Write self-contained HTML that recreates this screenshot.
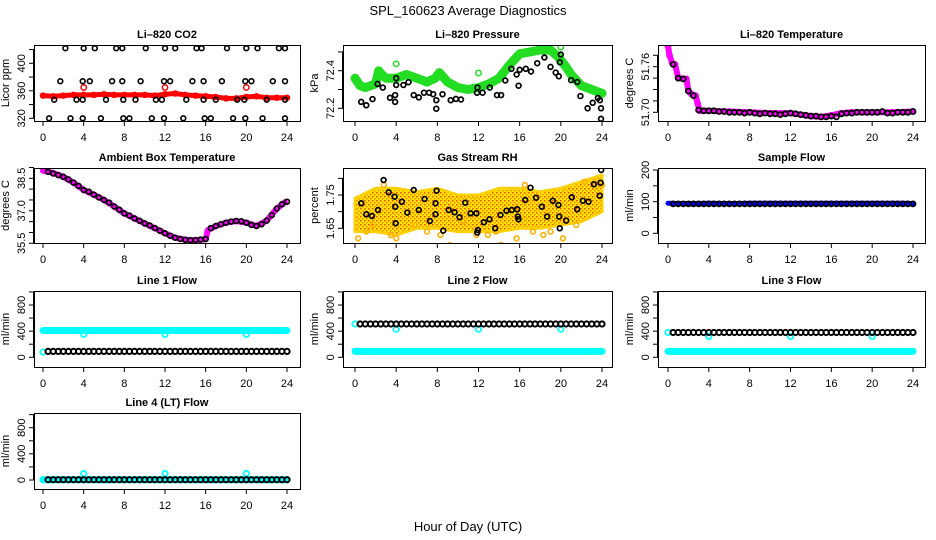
<!DOCTYPE html>
<html><head><meta charset="utf-8"><style>
html,body{margin:0;padding:0;background:#fff;}
svg{display:block;font-family:"Liberation Sans",Arial,sans-serif;}
</style></head><body>
<svg id="chart" width="936" height="540" viewBox="0 0 936 540" xmlns="http://www.w3.org/2000/svg">
<defs>
<pattern id="rhpat" width="4" height="4" patternUnits="userSpaceOnUse">
<rect width="4" height="4" fill="#ffe800"/><rect x="0" y="0" width="1.5" height="1.5" fill="#ff4000"/><rect x="2" y="2" width="1.5" height="1.5" fill="#ff8000"/>
</pattern>
</defs>
<text x="468" y="15" text-anchor="middle" font-size="13">SPL_160623  Average Diagnostics</text>
<text x="468" y="531" text-anchor="middle" font-size="13">Hour of Day (UTC)</text>
</svg>
<script>
// ---- shared x data ----
const hours = [0,1,2,3,4,5,6,7,8,9,10,11,12,13,14,15,16,17,18,19,20,21,22,23,24];
const halfHours = [0.5,1,1.5,2,2.5,3,3.5,4,4.5,5,5.5,6,6.5,7,7.5,8,8.5,9,9.5,10,10.5,11,11.5,12,12.5,13,13.5,14,14.5,15,15.5,16,16.5,17,17.5,18,18.5,19,19.5,20,20.5,21,21.5,22,22.5,23,23.5,24];
const xTickLabels = [0,4,8,12,16,20,24];
const calHours = [4,12,20];

// ---- CO2 ----
const co2Red = [353,352,353,354,354,354,355,354,354,354,354,353,355,356,354,353,352,351,349,349,351,352,350,350,350];
const co2RedCal = [365,365,365];
const co2BlackX = [2.2,4,5.1,7.2,7.8,10.1,12,13,15.1,15.6,18.1,20,21.1,23.2,23.8, 1.7,3.9,4.6,6.8,7.8,9.6,11.9,12.5,14.7,15.8,17.6,19.9,20.5,22.6,23.8, 1.1,3.3,3.9,6.2,7.9,9.1,11.1,11.7,14.1,15.8,17,19.1,19.8,22,23.8, 0.6,2.7,3.9,5.7,7.9,8.5,10.7,11.9,13.8,15.9,16.5,18.7,19.9,21.6,23.8];
const co2BlackY = [422,422,422,422,422,422,422,422,422,422,422,422,422,422,422, 374,374,374,374,374,374,374,374,374,374,374,374,374,374,374, 347,347,347,347,347,347,347,347,347,347,347,347,347,347,347, 320,320,320,320,320,320,320,320,320,320,320,320,320,320,320];

// ---- Pressure ----
const presGreenX = [0,0.5,1,1.5,2,2.3,2.6,3,4,5,6,7,7.8,8.2,9,10,11,12,13,14,15,16,17,18,19,19.8,20.5,21,22,23,24];
const presGreenY = [72.36,72.32,72.31,72.32,72.33,72.40,72.38,72.36,72.36,72.38,72.36,72.34,72.36,72.39,72.34,72.31,72.30,72.31,72.33,72.36,72.43,72.49,72.50,72.51,72.51,72.47,72.42,72.38,72.32,72.30,72.28];
const presGreenCal = [72.436,72.388,72.526];
const presBlackX = [0.6,1.1,1.7,2.2,2.7,3.4,3.9,3.9,4,4,4.7,5.2,5.7,6.2,6.7,7.2,7.6,7.9,7.9,8.5,9.3,9.8,10.3,11.85,11.9,12.4,13.1,13.8,14.2,14.6,15.2,15.7,15.9,16,16.6,17.1,17.7,18.4,19,19.5,19.8,19.9,20,21,21.6,21.9,22.6,23.1,23.6,23.8,23.9,23.9];
const presBlackY = [72.234,72.216,72.249,72.33,72.31,72.256,72.27,72.234,72.36,72.324,72.324,72.339,72.27,72.258,72.283,72.283,72.275,72.243,72.198,72.275,72.243,72.25,72.247,72.283,72.31,72.283,72.31,72.27,72.27,72.348,72.41,72.38,72.32,72.405,72.41,72.396,72.44,72.47,72.42,72.39,72.37,72.445,72.486,72.35,72.34,72.265,72.2,72.229,72.255,72.243,72.2,72.144];

// ---- Li-820 Temperature ----
const tempMagX = [0,0.15,0.4,0.7,1,1.5,1.8,2,2.3,2.7,2.9,3.1,4,6,8,10,12,14,15,16,17,18,20,22,24];
const tempMagY = [51.787,51.775,51.765,51.763,51.745,51.744,51.744,51.728,51.724,51.722,51.712,51.702,51.702,51.701,51.700,51.699,51.699,51.695,51.694,51.696,51.699,51.700,51.700,51.700,51.701];
const tempBlack = [51.763,51.745,51.744,51.728,51.722,51.703,51.702,51.702,51.702,51.701,51.701,51.700,51.700,51.700,51.699,51.700,51.699,51.698,51.699,51.698,51.698,51.697,51.698,51.699,51.698,51.697,51.696,51.695,51.695,51.694,51.694,51.695,51.694,51.698,51.699,51.699,51.700,51.700,51.700,51.700,51.700,51.701,51.699,51.699,51.700,51.700,51.700,51.701];

// ---- Ambient Box Temperature ----
const ambMagX = [0,1,2,3,4,5,6,7,8,9,10,11,12,13,14,15,16,16.2,17,18,19,20,21,22,23,23.8];
const ambMagY = [38.85,38.75,38.57,38.3,37.96,37.75,37.5,37.2,36.88,36.65,36.42,36.2,35.96,35.76,35.66,35.65,35.68,36.1,36.3,36.45,36.53,36.45,36.3,36.55,37.1,37.4];
const ambBlack = [38.8,38.72,38.65,38.57,38.45,38.3,38.15,37.96,37.88,37.75,37.62,37.5,37.38,37.2,37.05,36.88,36.78,36.65,36.54,36.42,36.32,36.2,36.08,35.96,35.85,35.76,35.7,35.66,35.64,35.65,35.67,35.7,36.2,36.3,36.38,36.45,36.5,36.53,36.52,36.45,36.35,36.3,36.38,36.55,36.8,37.1,37.3,37.42];

// ---- Gas Stream RH ----
const rhEnvX = [0,2,4,6,8,10,12,14,16,18,20,22,24];
const rhUpper = [1.74,1.77,1.77,1.76,1.77,1.75,1.75,1.77,1.77,1.76,1.77,1.79,1.81];
const rhLower = [1.64,1.64,1.63,1.65,1.65,1.64,1.64,1.64,1.65,1.65,1.66,1.67,1.70];
const rhOrangeX = [0.3,1.1,1.8,2.8,3.5,4,5.8,7,8.3,9.2,10.5,11.8,12.9,13.7,14.2,15.7,16.5,17.3,18.3,19,20.2,21.5,22.3,23.3,24];
const rhOrangeY = [1.62,1.64,1.66,1.78,1.63,1.62,1.66,1.64,1.63,1.60,1.67,1.63,1.63,1.64,1.60,1.62,1.78,1.64,1.63,1.64,1.62,1.66,1.79,1.79,1.78];
const rhBlackX = [0.61,1.1,1.65,2.23,2.78,3.27,3.85,3.92,3.95,4.56,5.08,5.7,6.2,6.76,7.28,7.83,7.83,7.93,8.58,9.1,9.68,10.16,10.71,11.23,11.8,11.88,11.94,12.52,13.07,13.62,14.14,14.72,15.24,15.76,15.83,15.89,16.54,17.05,17.6,18.15,18.67,19.22,19.77,19.84,19.9,20.52,21.07,21.59,22.14,22.69,23.21,23.79,23.86,23.92];
const rhBlackY = [1.725,1.692,1.687,1.705,1.795,1.758,1.745,1.715,1.665,1.73,1.697,1.765,1.705,1.738,1.672,1.725,1.692,1.763,1.643,1.705,1.698,1.683,1.727,1.695,1.695,1.637,1.645,1.668,1.677,1.65,1.69,1.703,1.705,1.707,1.685,1.677,1.735,1.772,1.742,1.715,1.685,1.733,1.72,1.685,1.65,1.673,1.743,1.707,1.733,1.73,1.782,1.748,1.787,1.825];

// ---- Sample Flow ----
const sampleBlue = [95,94,94,94,95,94,94,94,95,95,95,95,95,95,95,95,95,95,95,95,95,95,95,95,94];
const sampleBlack = [93,93,93,93,93,93,93,93,93,93,93,93,93,93,93,93,93,93,93,93,93,93,93,93,93,93,93,93,93,93,93,93,93,93,93,93,93,93,93,93,93,93,93,93,93,93,93,93];

// ---- Line flows ----
const line1Cyan = [410,410,410,410,410,410,410,410,410,410,410,410,410,410,410,410,410,410,410,410,410,410,410,410,410];
const line1CyanStart = [80];
const line1CyanCal = [350,350,350];
const line1Black = [90,90,90,90,90,90,90,90,90,90,90,90,90,90,90,90,90,90,90,90,90,90,90,90,90,90,90,90,90,90,90,90,90,90,90,90,90,90,90,90,90,90,90,90,90,90,90,90];
const line2Cyan = [90,90,90,90,90,90,90,90,90,90,90,90,90,90,90,90,90,90,90,90,90,90,90,90,90];
const line2CyanStart = [510];
const line2CyanCal = [430,430,430];
const line2Black = [510,510,510,510,510,510,510,510,510,510,510,510,510,510,510,510,510,510,510,510,510,510,510,510,510,510,510,510,510,510,510,510,510,510,510,510,510,510,510,510,510,510,510,510,510,510,510,510];
const line3Cyan = [90,90,90,90,90,90,90,90,90,90,90,90,90,90,90,90,90,90,90,90,90,90,90,90,90];
const line3CyanStart = [380];
const line3CyanCal = [320,320,320];
const line3Black = [380,380,380,380,380,380,380,380,380,380,380,380,380,380,380,380,380,380,380,380,380,380,380,380,380,380,380,380,380,380,380,380,380,380,380,380,380,380,380,380,380,380,380,380,380,380,380,380];
const line4Cyan = [5,5,5,5,5,5,5,5,5,5,5,5,5,5,5,5,5,5,5,5,5,5,5,5,5];
const line4CyanStart = [5];
const line4CyanCal = [100,100,100];
const line4Black = [5,5,5,5,5,5,5,5,5,5,5,5,5,5,5,5,5,5,5,5,5,5,5,5,5,5,5,5,5,5,5,5,5,5,5,5,5,5,5,5,5,5,5,5,5,5,5,5];

// ---- layout (not data) ----
const NS = "http://www.w3.org/2000/svg";
const svg = document.getElementById('chart');
const cols = [{l:34,r:300,x0:43,x24:287},{l:343,r:612,x0:355,x24:602},{l:658,r:925,x0:668,x24:913}];
const rows = [{t:45,b:121},{t:168,b:243},{t:291,b:367},{t:413,b:489}];

function el(tag, attrs, parent){
  const e = document.createElementNS(NS, tag);
  for (const k in attrs) e.setAttribute(k, attrs[k]);
  (parent||svg).appendChild(e);
  return e;
}

function makePanel(cfg){
  const c = cols[cfg.col], r = rows[cfg.row];
  const g = el('g', {});
  
  
  const xs = h => c.x0 + (c.x24 - c.x0) * h / 24;
  const ys = v => cfg.p1 + (v - cfg.v1) * (cfg.p2 - cfg.p1) / (cfg.v2 - cfg.v1);
  const t = el('text', {x:(c.l+c.r)/2, y:r.t-7, 'text-anchor':'middle', 'font-size':11, 'font-weight':'bold'}, g);
  t.textContent = cfg.title;
  
  
  const yl = el('text', {x:0, y:0, 'text-anchor':'middle', 'font-size':11, transform:`translate(${c.l-25},${(r.t+r.b)/2}) rotate(-90)`}, g);
  yl.textContent = cfg.ylabel;
  
  
  const ya = el('g', {stroke:'#000','stroke-width':1}, g);
  
  
  const tp = cfg.ticks.map(ys);
  el('line', {x1:c.l-0.5, x2:c.l-0.5, y1:Math.min(...tp), y2:Math.max(...tp)}, ya);
  cfg.ticks.forEach(v => { el('line', {x1:c.l-5, x2:c.l, y1:ys(v), y2:ys(v)}, ya); });
  cfg.labels.forEach((v,i) => {
    const tl = el('text', {x:0, y:0, 'text-anchor':'middle', 'font-size':11, stroke:'none', transform:`translate(${c.l-9},${ys(v)}) rotate(-90)`}, g);
    tl.textContent = cfg.labelText ? cfg.labelText[i] : String(v);
    
    
  });
  const xa = el('g', {stroke:'#000','stroke-width':1}, g);
  
  
  el('line', {x1:xs(0), x2:xs(24), y1:r.b+0.5, y2:r.b+0.5}, xa);
  xTickLabels.forEach(h => {
    el('line', {x1:xs(h), x2:xs(h), y1:r.b, y2:r.b+5}, xa);
    const xl = el('text', {x:xs(h), y:r.b+20, 'text-anchor':'middle', 'font-size':11, stroke:'none'}, g);
    xl.textContent = String(h);
    
    
  });
  const cid = 'clip-' + cfg.name;
  const cp = el('clipPath', {id:cid}, g);
  el('rect', {x:c.l, y:r.t, width:c.r-c.l, height:r.b-r.t}, cp);
  const plot = el('g', {'clip-path':`url(#${cid})`}, g);
  
  
  cfg.draw(plot, xs, ys);
  const box = el('rect', {x:c.l+0.5, y:r.t+0.5, width:c.r-c.l, height:r.b-r.t, fill:'none', stroke:'#000', 'stroke-width':1}, g);
  
  
}

function band(parent, name, xArr, yArr, xs, ys, color, w){
  const n = Math.min(xArr.length, yArr.length);
  const pts = [];
  for (let i=0;i<n;i++) pts.push(xs(xArr[i]).toFixed(1)+','+ys(yArr[i]).toFixed(1));
  const p = el('polyline', {points:pts.join(' '), fill:'none', stroke:color, 'stroke-width':w, 'stroke-linejoin':'round', 'stroke-linecap':'round'}, parent);
  
  
}
function points(parent, name, xArr, yArr, xs, ys, color, rad, sw, fill){
  const g = el('g', {fill:fill||'none', stroke:color, 'stroke-width':sw||1.5}, parent);
  
  
  const n = Math.min(xArr.length, yArr.length);
  for (let i=0;i<n;i++){
    const c = el('circle', {cx:xs(xArr[i]).toFixed(1), cy:ys(yArr[i]).toFixed(1), r:rad||2.5}, g);
    
    
  }
}

const flowTicks = [0,200,400,600,800,1000];

makePanel({name:'co2', title:'Li\u2013820 CO2', ylabel:'Licor ppm', col:0, row:0, v1:320, p1:118.3, v2:400, p2:63.3,
  ticks:[320,340,360,380,400,420], labels:[320,360,400],
  draw:(g,xs,ys)=>{
    band(g,'co2-red-series',hours,co2Red,xs,ys,'#ff0000',5);
    points(g,'co2-red-points',hours,co2Red,xs,ys,'#ff0000',2.5,1.5);
    points(g,'co2-calibration',calHours,co2RedCal,xs,ys,'#ff0000',2.7,1.5);
    points(g,'co2-black-points',co2BlackX,co2BlackY,xs,ys,'#000',2.4,1.6);
  }});

makePanel({name:'pressure', title:'Li\u2013820 Pressure', ylabel:'kPa', col:1, row:0, v1:72.2, p1:108.3, v2:72.4, p2:70.7,
  ticks:[72.2,72.3,72.4,72.5], labels:[72.2,72.4], labelText:['72.2','72.4'],
  draw:(g,xs,ys)=>{
    band(g,'pressure-green-series',presGreenX,presGreenY,xs,ys,'#22dd22',9);
    points(g,'pressure-calibration',calHours,presGreenCal,xs,ys,'#22dd22',2.7,1.5);
    points(g,'pressure-black-points',presBlackX,presBlackY,xs,ys,'#000',2.4,1.7);
  }});

makePanel({name:'li820-temperature', title:'Li\u2013820 Temperature', ylabel:'degrees C', col:2, row:0, v1:51.70, p1:112.3, v2:51.76, p2:66.7,
  ticks:[51.70,51.715,51.73,51.745,51.76,51.775], labels:[51.70,51.76], labelText:['51.70','51.76'],
  draw:(g,xs,ys)=>{
    band(g,'temperature-magenta-series',tempMagX,tempMagY,xs,ys,'#ff00ff',6);
    points(g,'temperature-magenta-points',tempMagX,tempMagY,xs,ys,'#ff00ff',2.6,1.5);
    points(g,'temperature-black-points',halfHours,tempBlack,xs,ys,'#000',2.5,1.8);
  }});

makePanel({name:'ambient-temperature', title:'Ambient Box Temperature', ylabel:'degrees C', col:0, row:1, v1:35.5, p1:243.3, v2:38.5, p2:178.3,
  ticks:[35.5,36,36.5,37,37.5,38,38.5,39], labels:[35.5,37.0,38.5], labelText:['35.5','37.0','38.5'],
  draw:(g,xs,ys)=>{
    band(g,'ambient-magenta-series',ambMagX,ambMagY,xs,ys,'#ff00ff',6);
    points(g,'ambient-black-points',halfHours,ambBlack,xs,ys,'#000',2.4,1.7);
  }});

makePanel({name:'gas-stream-rh', title:'Gas Stream RH', ylabel:'percent', col:1, row:1, v1:1.65, p1:228.3, v2:1.75, p2:195,
  ticks:[1.65,1.70,1.75,1.80], labels:[1.65,1.75], labelText:['1.65','1.75'],
  draw:(g,xs,ys)=>{
    const pts = [];
    rhEnvX.forEach((h,i)=>pts.push(xs(h).toFixed(1)+','+ys(rhUpper[i]).toFixed(1)));
    for (let i=rhEnvX.length-1;i>=0;i--) pts.push(xs(rhEnvX[i]).toFixed(1)+','+ys(rhLower[i]).toFixed(1));
    const p = el('polygon', {points:pts.join(' '), fill:'url(#rhpat)', stroke:'#ffd000', 'stroke-width':3, 'stroke-linejoin':'round'}, g);
    
    
    points(g,'rh-orange-points',rhOrangeX,rhOrangeY,xs,ys,'#ffb000',2.4,1.6);
    points(g,'rh-black-points',rhBlackX,rhBlackY,xs,ys,'#000',2.4,1.7);
  }});

makePanel({name:'sample-flow', title:'Sample Flow', ylabel:'ml/min', col:2, row:1, v1:0, p1:233.3, v2:200, p2:170,
  ticks:[0,50,100,150,200], labels:[0,100,200],
  draw:(g,xs,ys)=>{
    band(g,'sample-blue-series',hours,sampleBlue,xs,ys,'#0000ff',5);
    points(g,'sample-black-points',halfHours,sampleBlack,xs,ys,'#000',2.5,1.8);
  }});

function flowPanel(name, title, col, row, zeroPx, cyan, cyanStart, cyanCal, black){
  makePanel({name:name, title:title, ylabel:'ml/min', col:col, row:row, v1:0, p1:zeroPx, v2:800, p2:zeroPx-52.3,
    ticks:flowTicks, labels:[0,400,800],
    draw:(g,xs,ys)=>{
      band(g,name+'-cyan-series',hours,cyan,xs,ys,'#00ffff',7);
      points(g,name+'-cyan-start',[0],cyanStart,xs,ys,'#00ffff',2.7,1.8);
      points(g,name+'-cyan-calibration',calHours,cyanCal,xs,ys,'#00ffff',2.7,1.8);
      points(g,name+'-black-points',halfHours,black,xs,ys,'#000',2.6,2);
    }});
}
flowPanel('line1-flow','Line 1 Flow',0,2,357.3,line1Cyan,line1CyanStart,line1CyanCal,line1Black);
flowPanel('line2-flow','Line 2 Flow',1,2,357.3,line2Cyan,line2CyanStart,line2CyanCal,line2Black);
flowPanel('line3-flow','Line 3 Flow',2,2,357.3,line3Cyan,line3CyanStart,line3CyanCal,line3Black);
flowPanel('line4-flow','Line 4 (LT) Flow',0,3,480,line4Cyan,line4CyanStart,line4CyanCal,line4Black);
</script>
</body></html>
